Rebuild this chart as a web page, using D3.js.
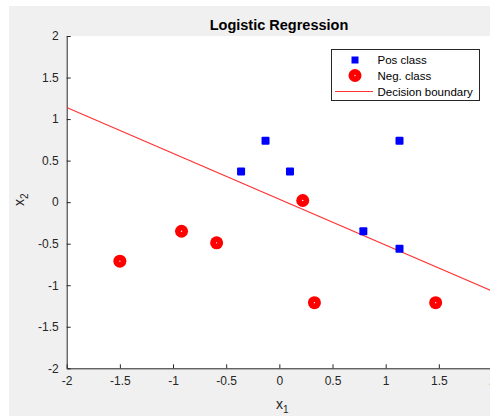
<!DOCTYPE html>
<html>
<head>
<meta charset="UTF-8">
<script src="https://d3js.org/d3.v7.min.js"></script>
<style>
  body { margin: 0; padding: 0; background: #fff; font-family: "Liberation Sans", Arial, sans-serif; }
  .tick text { font-size: 12px; fill: #262626; font-family: "Liberation Sans", Arial, sans-serif; }
</style>
</head>
<body>
<svg id="chart" width="490" height="416"></svg>
<script>
// data
const posX = [-0.36, -0.13, 0.10, 1.13, 0.79, 1.13];
const posY = [0.37, 0.74, 0.37, 0.74, -0.35, -0.56];
const negX = [-1.50, -0.92, -0.59, 0.22, 0.33, 1.47];
const negY = [-0.71, -0.35, -0.49, 0.02, -1.21, -1.21];
const boundaryX = [-2, 2];
const boundaryY = [1.14, -1.07];
const xTicks = [-2, -1.5, -1, -0.5, 0, 0.5, 1, 1.5, 2];
const yTicks = [-2, -1.5, -1, -0.5, 0, 0.5, 1, 1.5, 2];

const svg = d3.select("#chart");
const margin = { left: 66.7, top: 36, right: 492, bottom: 368.3 };

svg.append("rect").attr("x", 9).attr("y", 6).attr("width", 481).attr("height", 410).attr("fill", "#f0f0f0");
svg.append("rect").attr("x", margin.left).attr("y", margin.top)
  .attr("width", margin.right - margin.left).attr("height", margin.bottom - margin.top).attr("fill", "#fff");

const x = d3.scaleLinear().domain([-2, 2]).range([margin.left, margin.right]);
const y = d3.scaleLinear().domain([-2, 2]).range([margin.bottom, margin.top]);

const fmt = d => String(d);

const gx = svg.append("g").attr("transform", `translate(0,${margin.bottom})`)
  .call(d3.axisBottom(x).tickValues(xTicks).tickFormat(fmt).tickSizeInner(-4).tickSizeOuter(0).tickPadding(8));
const gy = svg.append("g").attr("transform", `translate(${margin.left},0)`)
  .call(d3.axisLeft(y).tickValues(yTicks).tickFormat(fmt).tickSizeInner(-4).tickSizeOuter(0).tickPadding(8));
[gx, gy].forEach(g => {
  g.select(".domain").attr("stroke", "#262626");
  g.selectAll(".tick line").attr("stroke", "#262626");
});

svg.append("clipPath").attr("id", "clip").append("rect")
  .attr("x", margin.left).attr("y", margin.top)
  .attr("width", margin.right - margin.left).attr("height", margin.bottom - margin.top);

const plot = svg.append("g").attr("clip-path", "url(#clip)");

plot.append("line")
  .attr("x1", x(boundaryX[0])).attr("y1", y(boundaryY[0]))
  .attr("x2", x(boundaryX[1])).attr("y2", y(boundaryY[1]))
  .attr("stroke", "#ff3333").attr("stroke-width", 1.2);

plot.selectAll(".pos").data(posX).enter().append("rect")
  .attr("x", (d, i) => x(d) - 4).attr("y", (d, i) => y(posY[i]) - 4)
  .attr("width", 8).attr("height", 8).attr("rx", 1).attr("fill", "#0000ff");

plot.selectAll(".neg").data(negX).enter().append("circle")
  .attr("cx", d => x(d)).attr("cy", (d, i) => y(negY[i]))
  .attr("r", 6.5).attr("fill", "#ff0000");
plot.selectAll(".negdot").data(negX).enter().append("circle")
  .attr("cx", d => x(d)).attr("cy", (d, i) => y(negY[i]))
  .attr("r", 0.7).attr("fill", "#fff");

// title and labels
svg.append("text").attr("x", 279).attr("y", 30).attr("text-anchor", "middle")
  .attr("font-size", 14.5).attr("font-weight", "bold").attr("fill", "#000").text("Logistic Regression");

const xl = svg.append("text").attr("x", 276).attr("y", 409).attr("font-size", 14).attr("fill", "#262626");
xl.append("tspan").text("x");
xl.append("tspan").attr("font-size", 10).attr("dy", 4).text("1");

const yl = svg.append("text").attr("transform", "translate(24,206) rotate(-90)").attr("font-size", 14).attr("fill", "#262626");
yl.append("tspan").text("x");
yl.append("tspan").attr("font-size", 10).attr("dy", 4).text("2");

// legend
const lg = svg.append("g");
lg.append("rect").attr("x", 331.5).attr("y", 49.5).attr("width", 148).attr("height", 51)
  .attr("fill", "#fff").attr("stroke", "#262626").attr("stroke-width", 1);
const items = ["Pos class", "Neg. class", "Decision boundary"];
const rowY = [60, 75.5, 91.5];
lg.append("rect").attr("x", 355 - 3.5).attr("y", rowY[0] - 3.5).attr("width", 7).attr("height", 7).attr("fill", "#0000ff");
lg.append("circle").attr("cx", 355).attr("cy", rowY[1]).attr("r", 6.5).attr("fill", "#ff0000");
lg.append("circle").attr("cx", 355).attr("cy", rowY[1]).attr("r", 0.7).attr("fill", "#fff");
lg.append("line").attr("x1", 335).attr("x2", 373).attr("y1", rowY[2]).attr("y2", rowY[2])
  .attr("stroke", "#ff3333").attr("stroke-width", 1.2);
lg.selectAll(".lt").data(items).enter().append("text")
  .attr("x", 377.5).attr("y", (d, i) => rowY[i] + 4)
  .attr("font-size", 11.5).attr("fill", "#000").text(d => d);
</script>
</body>
</html>
